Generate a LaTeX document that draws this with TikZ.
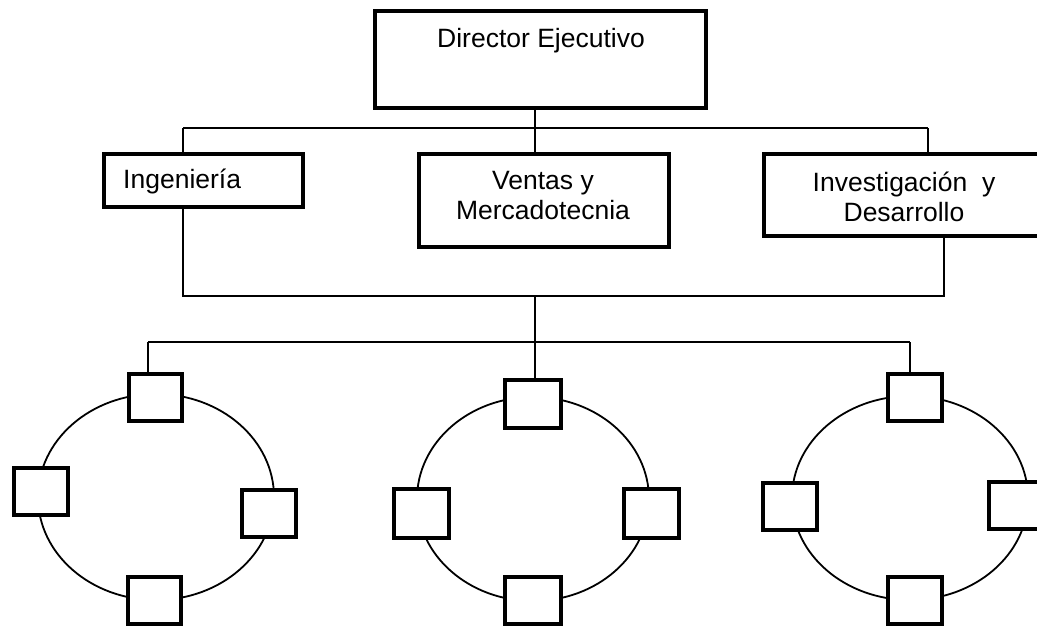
\documentclass[tikz,border=0pt]{standalone}
\usepackage{fontspec}
\setmainfont{Liberation Sans}
\begin{document}
\begin{tikzpicture}[x=1pt,y=-1pt,
  wire/.style={line width=1.8pt},
  orgbox/.style={draw, line width=4pt, fill=white, inner sep=0pt},
  unit/.style={draw, line width=4pt, fill=white, inner sep=0pt,
               minimum width=53pt, minimum height=47pt},
  lbl/.style={inner sep=0pt, font=\fontsize{26.5}{30}\selectfont, align=center}]
\useasboundingbox (0,0) rectangle (1037,627);
\clip (0,0) rectangle (1037,627);

% ---- bus points ----
\coordinate (bl) at (183,128);
\coordinate (bm) at (535,128);
\coordinate (br) at (928,128);
\coordinate (ll) at (183,296);
\coordinate (lr) at (944,296);
\coordinate (lm) at (535,296);
\coordinate (dm) at (535,342);
\coordinate (d1) at (148,342);
\coordinate (d3) at (910,342);

% ---- rings ----
\draw[wire] (156,497) ellipse [x radius=118pt, y radius=103pt];
\draw[wire] (533,499) ellipse [x radius=116pt, y radius=102pt];
\draw[wire] (910,498) ellipse [x radius=118pt, y radius=102pt];

% ---- upper boxes ----
\node[orgbox, minimum width=331pt, minimum height=97pt] (dir) at (540.5,59.5) {};
\node[orgbox, minimum width=199pt, minimum height=53pt] (ing) at (203.5,180.5) {};
\node[orgbox, minimum width=250pt, minimum height=93pt] (ven) at (544,200.5) {};
\node[orgbox, minimum width=279pt, minimum height=82pt] (inv) at (903.5,195) {};

% ---- ring units ----
\node[unit] (t1) at (155.5,397.5) {};
\node[unit, minimum width=54pt] (a1) at (41,491) {};
\node[unit, minimum width=54pt] (c1) at (269,513.5) {};
\node[unit] (e1) at (154.5,600) {};

\node[unit, minimum width=56pt, minimum height=48pt] (t2) at (533,404) {};
\node[unit, minimum width=55pt, minimum height=49pt] (a2) at (421.5,513.5) {};
\node[unit, minimum width=55pt, minimum height=49pt] (c2) at (651.5,513.5) {};
\node[unit, minimum width=56pt] (e2) at (533,600) {};

\node[unit, minimum width=54pt] (t3) at (915,397.5) {};
\node[unit, minimum width=54pt] (a3) at (790,506) {};
\node[unit, minimum width=54pt] (c3) at (1016,505.5) {};
\node[unit, minimum width=54pt] (e3) at (915,600) {};

% ---- connectors ----
\draw[wire] (dir.south -| bm) -- (bm);
\draw[wire] (bl) -- (br);
\draw[wire] (bl) -- (ing.north -| bl);
\draw[wire] (bm) -- (ven.north -| bm);
\draw[wire] (br) -- (inv.north -| br);
\draw[wire] (ing.south -| ll) -- (ll) -- (lr) -- (inv.south -| lr);
\draw[wire] (lm) -- (dm);
\draw[wire] (d1) -- (d3);
\draw[wire] (d1) -- (t1.north -| d1);
\draw[wire] (dm) -- (t2.north -| dm);
\draw[wire] (d3) -- (t3.north -| d3);

% ---- labels ----
\node[lbl, anchor=base] (dirt) at (541,47) {Director Ejecutivo};
\node[lbl, anchor=base west] (ingt) at (123,188) {Ingeniería};
\node[lbl] (vent) at (543,196) {Ventas y\\Mercadotecnia};
\node[lbl] (invt) at (904,197) {Investigación~~y\\Desarrollo};
\end{tikzpicture}
\end{document}
